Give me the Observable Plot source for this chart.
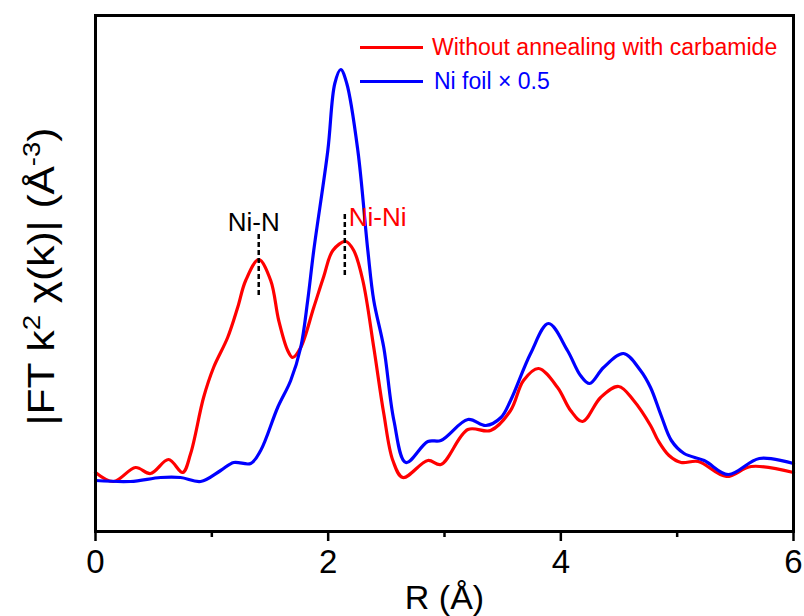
<!DOCTYPE html>
<html>
<head>
<meta charset="utf-8">
<script src="https://cdn.jsdelivr.net/npm/d3@7"></script>
<script src="https://cdn.jsdelivr.net/npm/@observablehq/plot@0.6"></script>
<style>
  html, body { margin: 0; padding: 0; background: #fff; }
  #wrap { position: relative; width: 804px; height: 616px; font-family: "Liberation Sans", Arial, sans-serif; }
  .leg { position: absolute; left: 360px; display: flex; align-items: center; font-size: 23px; white-space: nowrap; line-height: 26px; }
  .leg .sw { width: 63px; height: 3px; }
</style>
</head>
<body>
<div id="wrap"></div>
<script>
// Red: "Without annealing with carbamide"  (R in Å, |FT| in arbitrary units)
const redR = [0, 0.155, 0.344, 0.473, 0.628, 0.749, 0.818, 0.929, 1.015, 1.136, 1.222, 1.291, 1.403, 1.506, 1.575, 1.652, 1.695, 1.764, 1.876, 1.962, 2.04, 2.151, 2.22, 2.298, 2.392, 2.478, 2.556, 2.642, 2.857, 2.969, 3.201, 3.396, 3.568, 3.679, 3.808, 3.972, 4.084, 4.187, 4.342, 4.497, 4.626, 4.771, 4.836, 4.930, 5.034, 5.181, 5.422, 5.637, 6.0];
const redV = [0.56, 0.47, 0.61, 0.55, 0.69, 0.56, 0.75, 1.31, 1.61, 1.91, 2.21, 2.48, 2.69, 2.48, 2.08, 1.78, 1.71, 1.81, 2.21, 2.52, 2.78, 2.87, 2.78, 2.48, 1.81, 1.15, 0.68, 0.51, 0.68, 0.64, 0.99, 0.98, 1.18, 1.48, 1.60, 1.41, 1.18, 1.07, 1.31, 1.42, 1.28, 1.03, 0.88, 0.73, 0.66, 0.67, 0.52, 0.62, 0.56];

// Blue: "Ni foil × 0.5"
const blueR = [0, 0.301, 0.559, 0.731, 0.904, 1.076, 1.188, 1.334, 1.420, 1.566, 1.678, 1.764, 1.824, 1.876, 1.997, 2.057, 2.108, 2.160, 2.255, 2.341, 2.392, 2.478, 2.565, 2.668, 2.857, 2.969, 3.201, 3.356, 3.485, 3.568, 3.740, 3.894, 4.057, 4.169, 4.247, 4.367, 4.539, 4.685, 4.771, 4.862, 4.950, 5.060, 5.232, 5.439, 5.706, 6.0];
const blueV = [0.48, 0.47, 0.51, 0.51, 0.47, 0.58, 0.66, 0.65, 0.78, 1.21, 1.48, 1.81, 2.28, 2.78, 3.78, 4.45, 4.59, 4.45, 3.78, 2.78, 2.28, 1.81, 1.08, 0.66, 0.87, 0.88, 1.09, 1.03, 1.11, 1.28, 1.75, 2.05, 1.78, 1.53, 1.45, 1.61, 1.75, 1.58, 1.41, 1.13, 0.88, 0.75, 0.68, 0.54, 0.70, 0.65];

// Annotations
const annoNames = ["Ni-N", "Ni-Ni"];
const annoR = [1.403, 2.143];
const annoTop = [2.96, 3.16];
const annoBottom = [2.33, 2.53];
const annoColors = ["black", "#ff0000"];

// Axes
const xMajorTicks = [0, 2, 4, 6];
const xMinorTicks = [1, 3, 5];
const xTitle = "R (Å)";
const yTitleParts = [["|FT k", false], ["2", true], [" χ(k)| (Å", false], ["-3", true], [")", false]];
const yTitle = yTitleParts.map(p => p[0]).join("");

const seriesNames = ["Without annealing with carbamide", "Ni foil × 0.5"];
const seriesColors = ["#ff0000", "#0000ff"];

const red = redR.map((r, i) => ({R: r, v: redV[i]}));
const blue = blueR.map((r, i) => ({R: r, v: blueV[i]}));
const anno = annoNames.map((n, i) => ({name: n, R: annoR[i], top: annoTop[i], bottom: annoBottom[i], color: annoColors[i]}));

const font = "Liberation Sans, Arial, sans-serif";

const chart = Plot.plot({
  width: 804,
  height: 616,
  marginLeft: 95,
  marginRight: 11,
  marginTop: 15,
  marginBottom: 85,
  style: {fontFamily: font, background: "white"},
  x: {domain: [0, 6]},
  y: {domain: [-0.03, 5.13], axis: null},
  marks: [
    Plot.line(red, {x: "R", y: "v", stroke: seriesColors[0], strokeWidth: 3.2, curve: "catmull-rom"}),
    Plot.line(blue, {x: "R", y: "v", stroke: seriesColors[1], strokeWidth: 3.2, curve: "catmull-rom"}),
    Plot.ruleX(anno, {x: "R", y1: "bottom", y2: "top", stroke: "black", strokeWidth: 2.5, strokeDasharray: "5,3"}),
    Plot.text(anno.slice(0, 1), {x: "R", y: "top", text: "name", fill: "color", fontSize: 26, textAnchor: "middle", lineAnchor: "bottom", dx: -5, dy: -2}),
    Plot.text(anno.slice(1), {x: "R", y: "top", text: "name", fill: "color", fontSize: 26, textAnchor: "start", lineAnchor: "bottom", dx: 4, dy: 13}),
    Plot.axisX({ticks: xMajorTicks, tickSize: 10, tickPadding: 8, fontSize: 33, strokeWidth: 2.5, label: null, tickFormat: d => d}),
    Plot.axisX({ticks: xMinorTicks, tickSize: 6, strokeWidth: 2.5, label: null, tickFormat: () => ""}),
    Plot.frame({stroke: "black", strokeWidth: 3}),
    Plot.text([xTitle], {frameAnchor: "bottom", dy: 53, fontSize: 34, lineAnchor: "top", textAnchor: "middle"}),
    Plot.text([yTitle], {frameAnchor: "left", rotate: -90, dx: -53, dy: 3, fontSize: 37, textAnchor: "middle", lineAnchor: "middle"})
  ]
});

// Real superscripts in the y title, stretched to the reference's length
d3.select(chart).selectAll("text").filter(function() { return this.textContent === yTitle; }).each(function() {
  const t = d3.select(this);
  t.text(null);
  let raised = false;
  yTitleParts.forEach(([s, sup]) => {
    const ts = t.append("tspan").text(s);
    if (sup && !raised) { ts.attr("font-size", "24px").attr("dy", "-14"); raised = true; }
    else if (!sup && raised) { ts.attr("dy", "14"); raised = false; }
  });
  t.attr("textLength", 298).attr("lengthAdjust", "spacingAndGlyphs");
});

const wrap = document.getElementById("wrap");
wrap.appendChild(chart);
seriesNames.forEach((name, i) => {
  const row = document.createElement("div");
  row.className = "leg";
  row.style.top = (34 + i * 34) + "px";
  row.style.color = seriesColors[i];
  const sw = document.createElement("div");
  sw.className = "sw";
  sw.style.background = seriesColors[i];
  sw.style.marginRight = (i === 0 ? 9 : 11) + "px";
  const t = document.createElement("span");
  t.textContent = name;
  row.appendChild(sw);
  row.appendChild(t);
  wrap.appendChild(row);
});
</script>
</body>
</html>
